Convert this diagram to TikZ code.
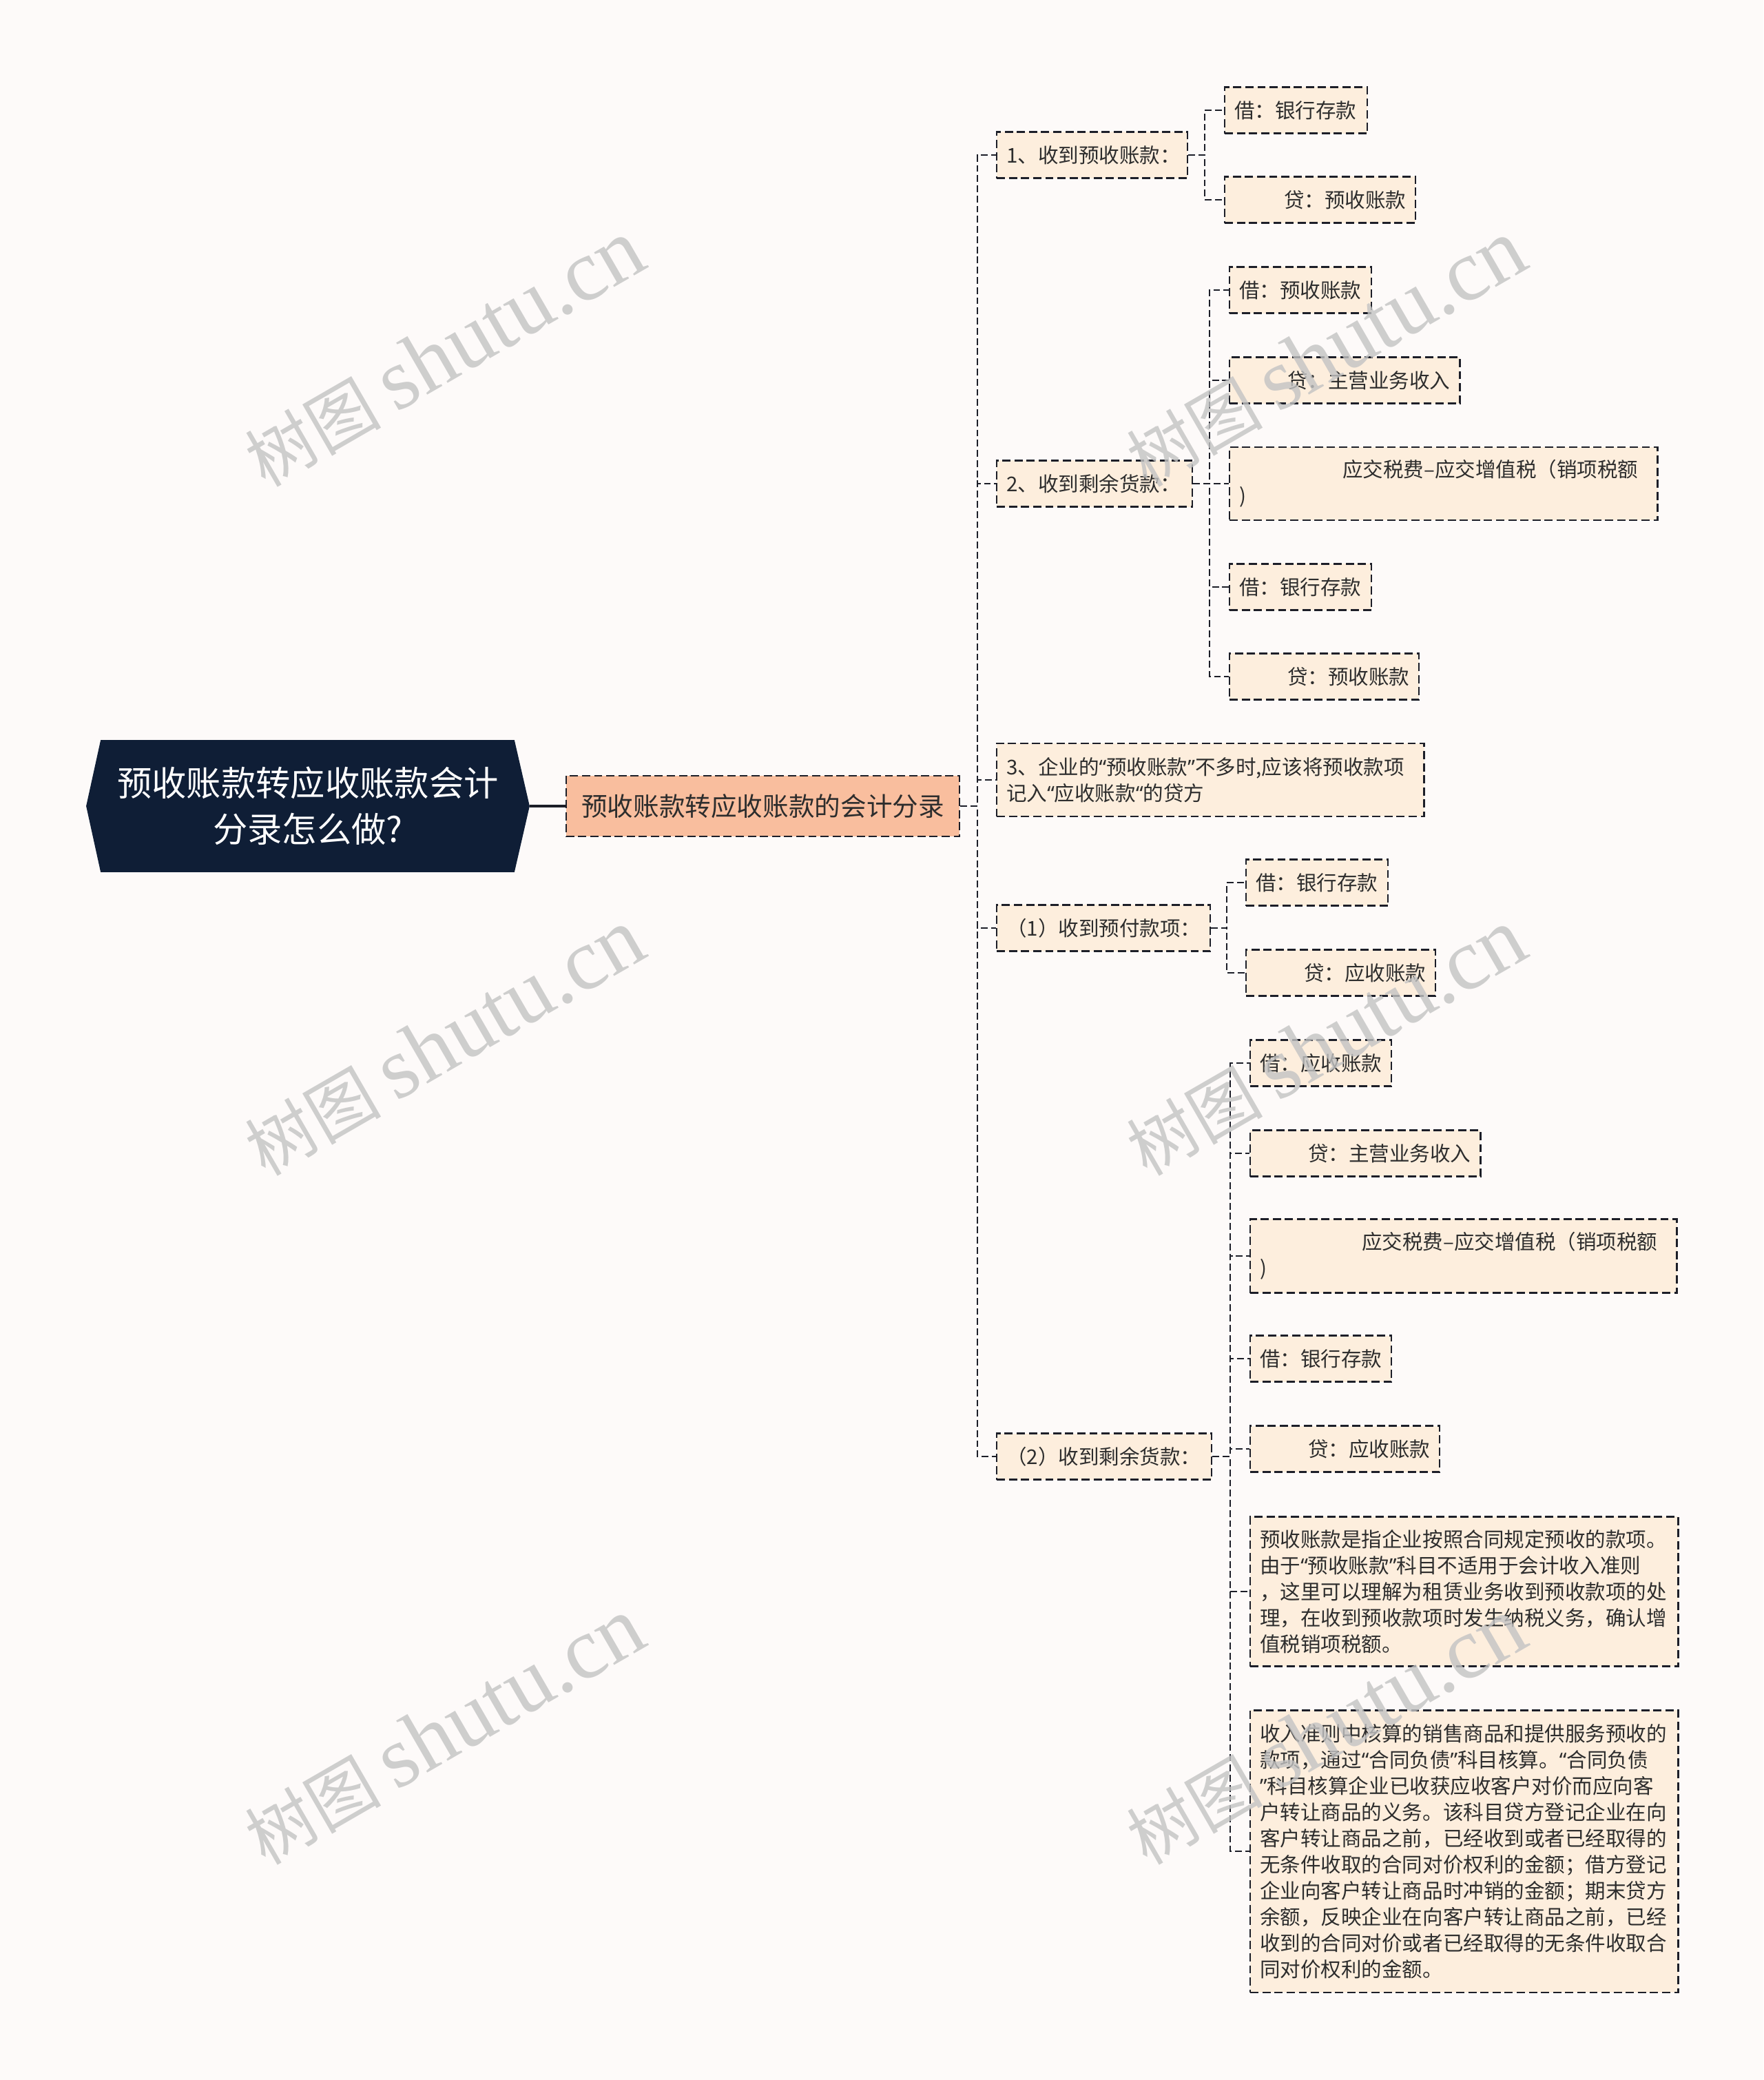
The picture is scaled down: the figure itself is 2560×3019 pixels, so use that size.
\documentclass[tikz,border=0pt]{standalone}
\usepackage{fontspec}
\setmainfont{Noto Sans CJK SC}
\newfontfamily\wmlatin{Liberation Serif}
\newfontfamily\qfont{Noto Sans}
\newcommand{\myoq}{{\qfont “}}
\newcommand{\mycq}{{\qfont ”}}
\usetikzlibrary{backgrounds}

\definecolor{pagebg}{RGB}{253,250,249}
\definecolor{rootfill}{RGB}{15,30,54}
\definecolor{mainfill}{RGB}{249,190,158}
\definecolor{leaffill}{RGB}{253,238,221}
\definecolor{inkline}{RGB}{28,30,40}
\definecolor{inktext}{RGB}{45,45,45}
\definecolor{wmgray}{RGB}{195,195,195}

\tikzset{
  boxline/.style={draw=inkline, line width=0.65pt, dash pattern=on 3.4pt off 1.6pt},
  leaf/.style={boxline, fill=leaffill, text=inktext, anchor=west, align=left,
    inner xsep=0.14cm, inner ysep=0.12cm, minimum height=0.67cm,
    font=\fontsize{8.4}{10.8}\selectfont},
  link/.style={draw=inkline, line width=0.6pt, dash pattern=on 2.8pt off 1.4pt},
  wmark/.style={text=wmgray, text opacity=0.8, rotate=30,
    font=\fontsize{28}{28}\selectfont},
}

\begin{document}
\begin{tikzpicture}[x=0.01cm, y=-0.01cm]
  \useasboundingbox (0,0) rectangle (2560,3019);

  % centre and first level
  \node[minimum width=6.42cm, minimum height=1.90cm, text=white, align=center,
    font=\fontsize{14.3}{19.1}\selectfont] (root) at (447,1170)
    {预收账款转应收账款会计\\分录怎么做?};
  \node[boxline, fill=mainfill, text=inktext, minimum width=5.71cm, minimum height=0.88cm,
    font=\fontsize{10.7}{13}\selectfont] (main) at (1107.5,1170) {预收账款转应收账款的会计分录};
  \begin{scope}[on background layer]
    \fill[pagebg] (0,0) rectangle (2560,3019);
    \fill[rootfill] (root.west) -- ([xshift=0.21cm]root.north west)
      -- ([xshift=-0.22cm]root.north east) -- (root.east)
      -- ([xshift=-0.22cm]root.south east) -- ([xshift=0.21cm]root.south west) -- cycle;
  \end{scope}
  \draw[inkline, line width=1.2pt] (root.east) -- (main.west);

  \node[leaf, text width=2.49cm] (a1) at (1446,225) {1、收到预收账款：};
  \node[leaf, text width=2.56cm] (a2) at (1446,702) {2、收到剩余货款：};
  \node[leaf, text width=5.92cm, minimum height=1.06cm] (a3) at (1446,1132)
    {3、企业的\myoq 预收账款\mycq 不多时,应该将预收款项\\记入\myoq 应收账款\myoq 的贷方};
  \node[leaf, text width=2.82cm] (a4) at (1446,1347) {（1）收到预付款项：};
  \node[leaf, text width=2.84cm] (a5) at (1446,2114) {（2）收到剩余货款：};

  \coordinate (sp) at (1419,0);
  \draw[link] (main.east) -- (main.east -| sp) |- (a1.west);
  \draw[link] (main.east) -- (main.east -| sp) |- (a2.west);
  \draw[link] (main.east) -- (main.east -| sp) |- (a3.west);
  \draw[link] (main.east) -- (main.east -| sp) |- (a4.west);
  \draw[link] (main.east) -- (main.east -| sp) |- (a5.west);

  % 1
  \node[leaf, text width=1.79cm] (b11) at (1777,160) {借：银行存款};
  \node[leaf, text width=2.49cm, align=right] (b12) at (1777,290) {贷：预收账款};
  \coordinate (k1) at (1749,0);
  \draw[link] (a1.east) -- (a1.east -| k1) |- (b11.west);
  \draw[link] (a1.east) -- (a1.east -| k1) |- (b12.west);

  % 2
  \node[leaf, text width=1.78cm] (b21) at (1784,421) {借：预收账款};
  \node[leaf, text width=3.06cm, align=right] (b22) at (1784,552) {贷：主营业务收入};
  \node[leaf, text width=5.93cm, minimum height=1.06cm] (b23) at (1784,702)
    {\hspace*{\fill}应交税费–应交增值税（销项税额\rule{0.14cm}{0pt}\\)};
  \node[leaf, text width=1.78cm] (b24) at (1784,852) {借：银行存款};
  \node[leaf, text width=2.47cm, align=right] (b25) at (1784,982) {贷：预收账款};
  \coordinate (k2) at (1756,0);
  \draw[link] (a2.east) -- (a2.east -| k2) |- (b21.west);
  \draw[link] (a2.east) -- (a2.east -| k2) |- (b22.west);
  \draw[link] (a2.east) -- (a2.east -| k2) |- (b23.west);
  \draw[link] (a2.east) -- (a2.east -| k2) |- (b24.west);
  \draw[link] (a2.east) -- (a2.east -| k2) |- (b25.west);

  % (1)
  \node[leaf, text width=1.78cm] (b41) at (1808,1281) {借：银行存款};
  \node[leaf, text width=2.47cm, align=right] (b42) at (1808,1412) {贷：应收账款};
  \coordinate (k4) at (1781,0);
  \draw[link] (a4.east) -- (a4.east -| k4) |- (b41.west);
  \draw[link] (a4.east) -- (a4.east -| k4) |- (b42.west);

  % (2)
  \node[leaf, text width=1.77cm] (b51) at (1814,1543) {借：应收账款};
  \node[leaf, text width=3.06cm, align=right] (b52) at (1814,1674) {贷：主营业务收入};
  \node[leaf, text width=5.91cm, minimum height=1.07cm] (b53) at (1814,1823)
    {\hspace*{\fill}应交税费–应交增值税（销项税额\rule{0.14cm}{0pt}\\)};
  \node[leaf, text width=1.77cm] (b54) at (1814,1972) {借：银行存款};
  \node[leaf, text width=2.47cm, align=right] (b55) at (1814,2103) {贷：应收账款};
  \node[leaf, text width=5.93cm, minimum height=2.17cm] (b56) at (1814,2310)
    {预收账款是指企业按照合同规定预收的款项。\\
     由于\myoq 预收账款\mycq 科目不适用于会计收入准则\\
     ，这里可以理解为租赁业务收到预收款项的处\\
     理，在收到预收款项时发生纳税义务，确认增\\
     值税销项税额。};
  \node[leaf, text width=5.93cm, minimum height=4.09cm] (b57) at (1814,2687)
    {收入准则中核算的销售商品和提供服务预收的\\
     款项，通过\myoq 合同负债\mycq 科目核算。\myoq 合同负债\\
     \mycq 科目核算企业已收获应收客户对价而应向客\\
     户转让商品的义务。该科目贷方登记企业在向\\
     客户转让商品之前，已经收到或者已经取得的\\
     无条件收取的合同对价权利的金额；借方登记\\
     企业向客户转让商品时冲销的金额；期末贷方\\
     余额，反映企业在向客户转让商品之前，已经\\
     收到的合同对价或者已经取得的无条件收取合\\
     同对价权利的金额。};
  \coordinate (k5) at (1786,0);
  \draw[link] (a5.east) -- (a5.east -| k5) |- (b51.west);
  \draw[link] (a5.east) -- (a5.east -| k5) |- (b52.west);
  \draw[link] (a5.east) -- (a5.east -| k5) |- (b53.west);
  \draw[link] (a5.east) -- (a5.east -| k5) |- (b54.west);
  \draw[link] (a5.east) -- (a5.east -| k5) |- (b55.west);
  \draw[link] (a5.east) -- (a5.east -| k5) |- (b56.west);
  \draw[link] (a5.east) -- (a5.east -| k5) |- (b57.west);

  % watermark
  \node[wmark] (wm1) at (645,513) {树图 {\wmlatin\fontsize{36}{36}\selectfont shutu.cn}};
  \node[wmark] (wm2) at (645,1513) {树图 {\wmlatin\fontsize{36}{36}\selectfont shutu.cn}};
  \node[wmark] (wm3) at (645,2513) {树图 {\wmlatin\fontsize{36}{36}\selectfont shutu.cn}};
  \node[wmark] (wm4) at (1925,513) {树图 {\wmlatin\fontsize{36}{36}\selectfont shutu.cn}};
  \node[wmark] (wm5) at (1925,1513) {树图 {\wmlatin\fontsize{36}{36}\selectfont shutu.cn}};
  \node[wmark] (wm6) at (1925,2513) {树图 {\wmlatin\fontsize{36}{36}\selectfont shutu.cn}};
\end{tikzpicture}
\end{document}
